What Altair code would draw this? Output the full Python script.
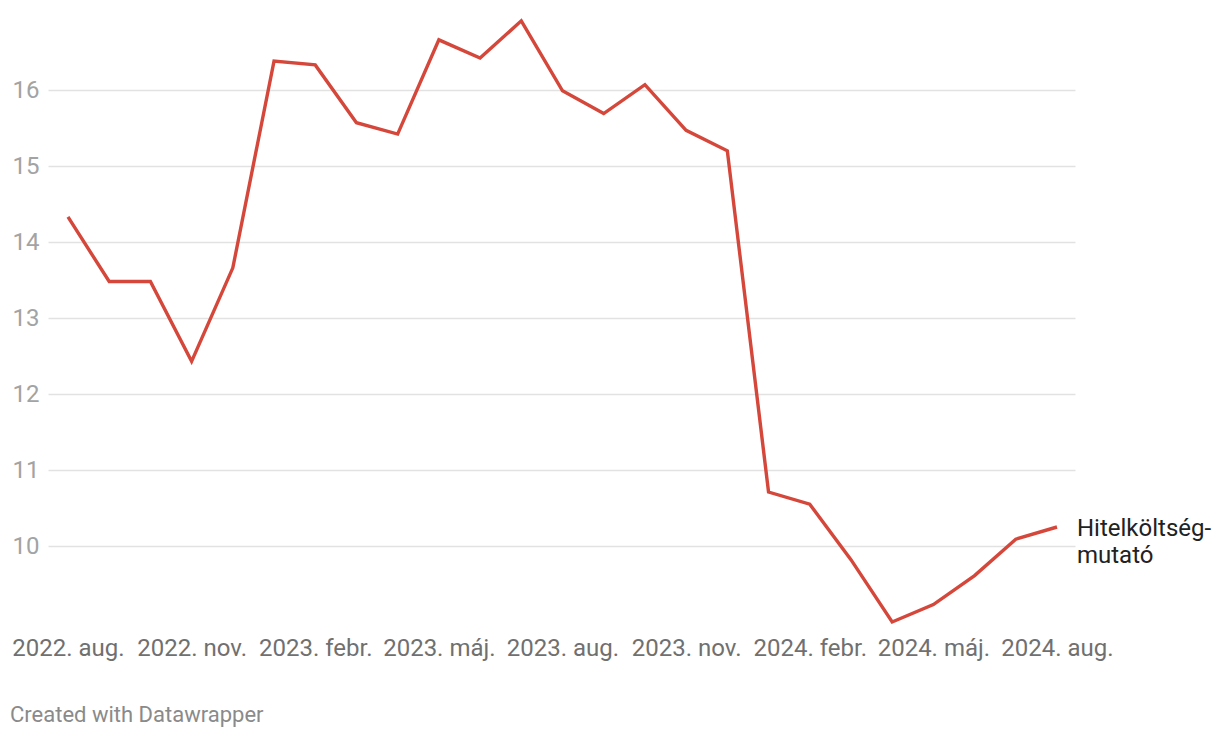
import altair as alt
import pandas as pd

months = ["2022. aug.", "2022. szept.", "2022. okt.", "2022. nov.", "2022. dec.",
          "2023. jan.", "2023. febr.", "2023. márc.", "2023. ápr.", "2023. máj.",
          "2023. jún.", "2023. júl.", "2023. aug.", "2023. szept.", "2023. okt.",
          "2023. nov.", "2023. dec.", "2024. jan.", "2024. febr.", "2024. márc.",
          "2024. ápr.", "2024. máj.", "2024. jún.", "2024. júl.", "2024. aug."]
values = [14.33, 13.48, 13.48, 12.43, 13.66,
          16.38, 16.33, 15.57, 15.42, 16.66,
          16.42, 16.91, 15.99, 15.69, 16.07,
          15.47, 15.20, 10.71, 10.55, 9.82,
          9.00, 9.23, 9.61, 10.09, 10.25]
series_label = "Hitelköltség-\nmutató"
tick_idx = [0, 3, 6, 9, 12, 15, 18, 21, 24]
y_ticks = [10, 11, 12, 13, 14, 15, 16]

df = pd.DataFrame({"i": list(range(len(values))), "month": months, "v": values})
last = df.tail(1).assign(label=series_label)

FONT = "Roboto"
FS = 24
label_expr = "[" + ",".join("'" + m + "'" for m in months) + "][datum.value]"

x = alt.X("i:Q", scale=alt.Scale(domain=[-0.485, 24.437], nice=False, zero=False),
          axis=alt.Axis(values=tick_idx, labelExpr=label_expr, grid=False, ticks=False,
                        domain=False, labelFont=FONT, labelFontSize=FS,
                        labelColor="#707070", labelPadding=26, labelBaseline="middle",
                        labelFlush=False, labelOverlap=False, title=None))
y = alt.Y("v:Q", scale=alt.Scale(domain=[9, 17], nice=False, zero=False),
          axis=alt.Axis(values=y_ticks, format="d", grid=True, gridColor="#e2e2e2",
                        gridWidth=1.5, ticks=False, domain=False, labelFont=FONT,
                        labelFontSize=FS, labelColor="#a3a3a3", labelAlign="left",
                        labelPadding=36, labelBaseline="middle", title=None))

line = alt.Chart(df).mark_line(color="#d4473a", strokeWidth=3.4, strokeJoin="miter").encode(x=x, y=y)

lab = alt.Chart(last).mark_text(align="left", baseline="middle", dx=20, dy=2, font=FONT,
                                fontSize=FS, color="#222222", lineBreak="\n",
                                lineHeight=27).encode(x="i:Q", y="v:Q", text="label:N")

footer = alt.Chart(last).mark_text(align="left", baseline="middle", font=FONT, fontSize=22,
                                   color="#8a8a8a", text="Created with Datawrapper").encode(
    x=alt.value(-38), y=alt.value(701))

chart = alt.layer(line, lab, footer).properties(
    width=1027, height=608,
    background="white",
    autosize=alt.AutoSizeParams(type="none"),
    padding={"left": 48, "top": 14, "right": 145, "bottom": 116},
).configure_view(strokeWidth=0, stroke="transparent")

chart.save("out.html", embed_options={"renderer": "svg", "actions": False})
